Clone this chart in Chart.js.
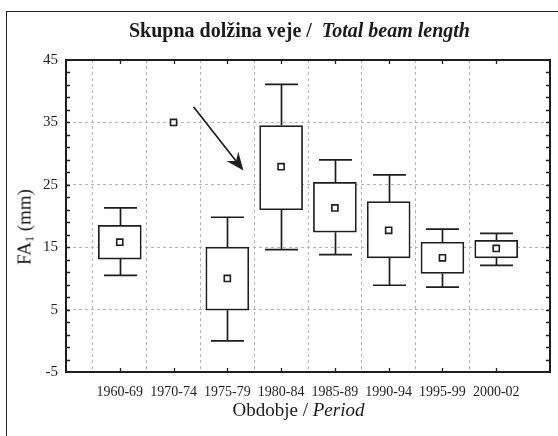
<!DOCTYPE html>
<html><head><meta charset="utf-8">
<script src="https://cdn.jsdelivr.net/npm/chart.js@4/dist/chart.umd.min.js"></script>
<style>
html,body{margin:0;padding:0;background:#fff;}
#wrap{position:relative;width:558px;height:436px;overflow:hidden;background:#fff;}
#frame{position:absolute;left:6px;top:11px;width:700px;height:600px;border-left:1.5px solid #222;border-top:1.5px solid #222;}
#c{position:absolute;left:0;top:0;}
.t{position:absolute;font-family:"Liberation Serif","Times New Roman",serif;color:#1a1a1a;white-space:nowrap;}
#title{left:0;width:599px;top:19px;text-align:center;font-size:20px;line-height:22px;font-weight:bold;}
#xtitle{left:0;width:597px;top:399px;text-align:center;font-size:19px;line-height:21px;}
#ytitle{left:27px;top:227px;font-size:19px;line-height:20px;transform:translate(-50%,-50%) rotate(-90deg);}
#ytitle sub{font-size:12px;vertical-align:-3px;}
</style></head>
<body>
<div id="wrap">
<div id="frame"></div>
<canvas id="c" width="558" height="436"></canvas>
<div class="t" id="title">Skupna dolžina veje / &nbsp;<i>Total beam length</i></div>
<div class="t" id="xtitle">Obdobje / <i>Period</i></div>
<div class="t" id="ytitle">FA<sub>1</sub> (mm)</div>
</div>
<script>
const categories = ['1960-69','1970-74','1975-79','1980-84','1985-89','1990-94','1995-99','2000-02'];
const means       = [15.8, 35.0, 10.0, 27.9, 21.3, 17.7, 13.3, 14.8];
const boxLow      = [13.1, null,  4.9, 21.0, 17.4, 13.3, 10.8, 13.3];
const boxHigh     = [18.5, null, 15.0, 34.5, 25.4, 22.3, 15.8, 16.1];
const whiskerLow  = [10.5, null,  0.0, 14.6, 13.8,  8.9,  8.6, 12.1];
const whiskerHigh = [21.3, null, 19.8, 41.1, 29.0, 26.6, 17.9, 17.2];
const yTicks = [-5, 5, 15, 25, 35, 45];
// arrow annotation in data units (category index, value)
const arrowFrom = [1.37, 37.5];
const arrowTo   = [2.30, 27.3];

const labels = ['', ...categories, ''];
const pad = a => [null, ...a, null];
const boxes = pad(categories.map((c, i) => boxLow[i] == null ? null : [boxLow[i], boxHigh[i]]));

const INK = '#1e1e1e';
Chart.defaults.font.family = '"Liberation Serif","Times New Roman",serif';
Chart.defaults.color = INK;

const decor = {
  id: 'decor',
  beforeDatasetsDraw(chart) {
    const ctx = chart.ctx, xs = chart.scales.x, ys = chart.scales.y;
    ctx.save();
    ctx.strokeStyle = INK; ctx.lineWidth = 1.7; ctx.setLineDash([]);
    categories.forEach((c, i) => {
      if (whiskerLow[i] == null) return;
      const x = Math.round(xs.getPixelForValue(i + 1)) + 0.5;
      const segs = [[whiskerLow[i], boxLow[i]], [boxHigh[i], whiskerHigh[i]]];
      ctx.beginPath();
      segs.forEach(([a, b]) => { ctx.moveTo(x, ys.getPixelForValue(a)); ctx.lineTo(x, ys.getPixelForValue(b)); });
      [whiskerLow[i], whiskerHigh[i]].forEach(v => {
        const y = ys.getPixelForValue(v);
        ctx.moveTo(x - 16.5, y); ctx.lineTo(x + 16.5, y);
      });
      ctx.stroke();
    });
    ctx.restore();
  },
  afterDatasetsDraw(chart) {
    const ctx = chart.ctx, xs = chart.scales.x, ys = chart.scales.y, a = chart.chartArea;
    ctx.save();
    ctx.setLineDash([]);
    ctx.strokeStyle = INK;
    // frame
    ctx.lineWidth = 2;
    ctx.strokeRect(a.left, a.top, a.right - a.left, a.bottom - a.top);
    // minor ticks
    ctx.lineWidth = 1.3;
    ctx.beginPath();
    for (let v = -3; v < 45; v += 2) {
      const y = Math.round(ys.getPixelForValue(v)) + 0.5;
      ctx.moveTo(a.left, y); ctx.lineTo(a.left + 4, y);
      ctx.moveTo(a.right, y); ctx.lineTo(a.right - 4, y);
    }
    categories.forEach((c, i) => {
      const x = Math.round(xs.getPixelForValue(i + 1)) + 0.5;
      ctx.moveTo(x, a.bottom); ctx.lineTo(x, a.bottom - 4);
      ctx.moveTo(x, a.top); ctx.lineTo(x, a.top + 4);
    });
    ctx.stroke();
    // arrow
    const x1 = xs.getPixelForValue(arrowFrom[0] + 1), y1 = ys.getPixelForValue(arrowFrom[1]);
    const x2 = xs.getPixelForValue(arrowTo[0] + 1), y2 = ys.getPixelForValue(arrowTo[1]);
    const ang = Math.atan2(y2 - y1, x2 - x1), L = 18, W = 7.5, N = 6;
    const cs = Math.cos(ang), sn = Math.sin(ang);
    const bx = x2 - L * cs, by = y2 - L * sn;
    ctx.lineWidth = 1.7;
    ctx.beginPath(); ctx.moveTo(x1, y1); ctx.lineTo(bx + N * cs, by + N * sn); ctx.stroke();
    ctx.fillStyle = INK;
    ctx.beginPath();
    ctx.moveTo(x2, y2);
    ctx.lineTo(bx - W * sn, by + W * cs);
    ctx.lineTo(bx + N * cs, by + N * sn);
    ctx.lineTo(bx + W * sn, by - W * cs);
    ctx.closePath(); ctx.fill();
    ctx.restore();
  }
};

new Chart(document.getElementById('c'), {
  type: 'bar',
  data: {
    labels: labels,
    datasets: [
      {
        type: 'line', label: 'Mean', data: pad(means), showLine: false, order: 0,
        pointStyle: 'rect', pointRadius: 4.3, pointBackgroundColor: '#fff',
        pointBorderColor: INK, pointBorderWidth: 1.6
      },
      {
        type: 'bar', label: 'Box', data: boxes, order: 1,
        backgroundColor: '#fff', borderColor: INK, borderWidth: 1.7,
        borderSkipped: false, barThickness: 43
      }
    ]
  },
  options: {
    responsive: false, animation: false,
    layout: { padding: { left: 0, right: 8, top: 60, bottom: 0 } },
    plugins: { legend: { display: false }, tooltip: { enabled: false }, title: { display: false } },
    scales: {
      x: {
        offset: false,
        afterFit: s => { s.height = 64; s.paddingLeft = 0; s.paddingRight = 0; },
        grid: { drawTicks: false, lineWidth: 1,
          color: c => (c.index === 0 || c.index === labels.length - 1) ? 'rgba(0,0,0,0)' : '#b4b4b4' },
        border: { display: true, color: INK, width: 2, dash: [3, 3] },
        ticks: { padding: 12, font: { size: 14 }, color: INK, maxRotation: 0, autoSkip: false }
      },
      y: {
        min: -5, max: 45,
        afterFit: s => { s.width = 66; s.paddingTop = 0; s.paddingBottom = 0; },
        afterBuildTicks: s => { s.ticks = yTicks.map(v => ({ value: v })); },
        grid: { drawTicks: false, lineWidth: 1,
          color: c => (c.tick && (c.tick.value === -5 || c.tick.value === 45)) ? 'rgba(0,0,0,0)' : '#b4b4b4' },
        border: { display: true, color: INK, width: 2, dash: [3, 3] },
        ticks: { padding: 8, font: { size: 15 }, color: INK }
      }
    }
  },
  plugins: [decor]
});
</script>
</body></html>
